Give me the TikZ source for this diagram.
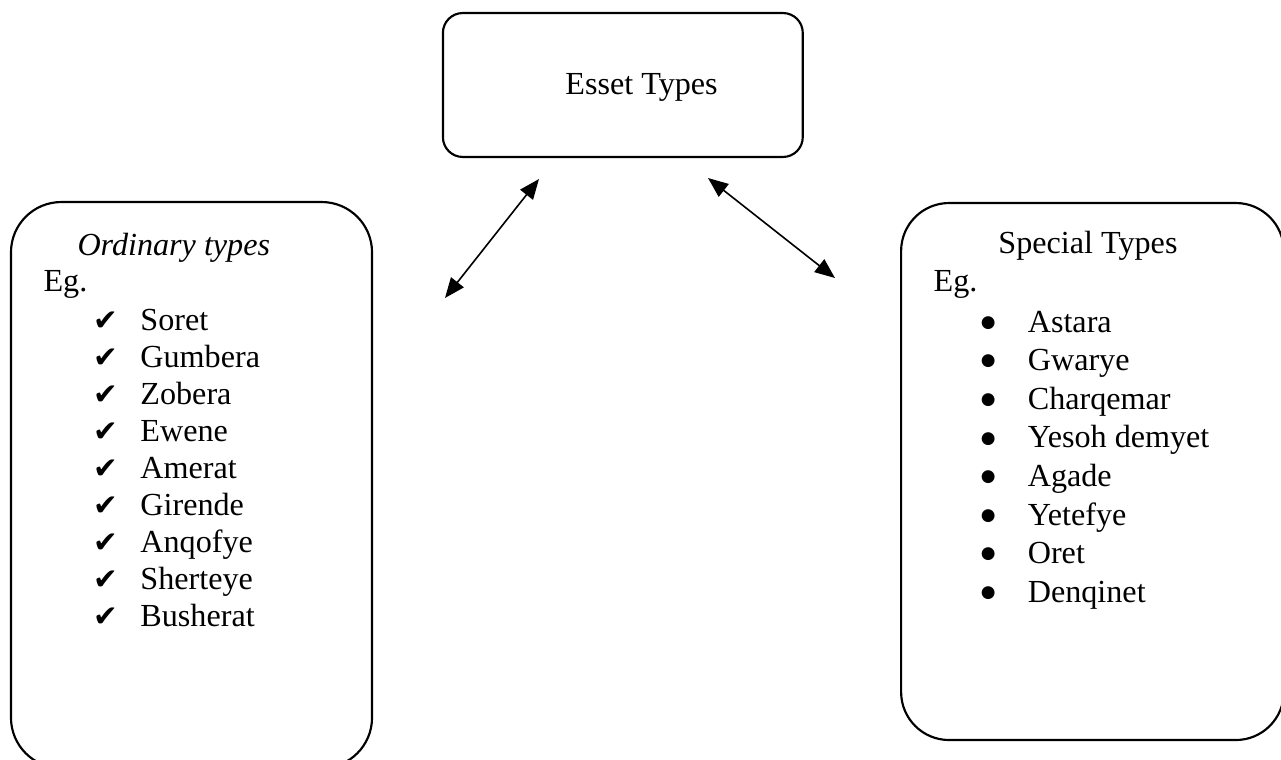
\documentclass[tikz,border=0pt]{standalone}
\usepackage{fontspec}
\setmainfont{Liberation Serif}
\newfontfamily\symfont{DejaVu Sans}
\usepackage{tikz}
\usetikzlibrary{arrows.meta, positioning}

\newcommand{\chk}{\makebox[17.5pt][l]{\symfont\fontsize{11pt}{12pt}\selectfont ✔}}
\newcommand{\blt}{\makebox[17.5pt][l]{\raisebox{1.8pt}{\symfont\fontsize{6.3pt}{7pt}\selectfont ●}}}

\tikzset{
  typebox/.style={draw, line width=0.8pt, inner sep=0pt},
  label/.style={anchor=base west, inner sep=0pt, font=\fontsize{12pt}{13.8pt}\selectfont},
  link/.style={{Triangle[length=7.5pt, width=6pt]}-{Triangle[length=7.5pt, width=6pt]}, line width=0.6pt}
}

\begin{document}
\begin{tikzpicture}
\useasboundingbox (0,0) rectangle (16.803,9.956);

% top box
\node[typebox, rounded corners=0.26cm, minimum width=4.72cm, minimum height=1.888cm] (esset) at (8.17,8.841) {};
\node[label] (essettxt) at (7.41,8.71) {Esset Types};

% ordinary types
\node[typebox, rounded corners=0.66cm, minimum width=4.736cm, minimum height=7.424cm] (ord) at (2.512,3.594) {};
\node[label] (ordtitle) at (1.01,6.611) {\itshape Ordinary types};
\node[label] (ordeg) at (0.564,6.13) {Eg.};
\node[label] (o1) at (1.22,5.62) {\chk Soret};
\node[label, below=13.8pt of o1.base west, anchor=base west] (o2) {\chk Gumbera};
\node[label, below=13.8pt of o2.base west, anchor=base west] (o3) {\chk Zobera};
\node[label, below=13.8pt of o3.base west, anchor=base west] (o4) {\chk Ewene};
\node[label, below=13.8pt of o4.base west, anchor=base west] (o5) {\chk Amerat};
\node[label, below=13.8pt of o5.base west, anchor=base west] (o6) {\chk Girende};
\node[label, below=13.8pt of o6.base west, anchor=base west] (o7) {\chk Anqofye};
\node[label, below=13.8pt of o7.base west, anchor=base west] (o8) {\chk Sherteye};
\node[label, below=13.8pt of o8.base west, anchor=base west] (o9) {\chk Busherat};

% special types
\node[typebox, rounded corners=0.63cm, minimum width=5.02cm, minimum height=7.044cm] (spec) at (14.33,3.771) {};
\node[label] (spectitle) at (13.09,6.637) {Special Types};
\node[label] (speceg) at (12.24,6.13) {Eg.};
\node[label] (s1) at (12.86,5.60) {\blt Astara};
\node[label, below=14.4pt of s1.base west, anchor=base west] (s2) {\blt Gwarye};
\node[label, below=14.4pt of s2.base west, anchor=base west] (s3) {\blt Charqemar};
\node[label, below=14.4pt of s3.base west, anchor=base west] (s4) {\blt Yesoh demyet};
\node[label, below=14.4pt of s4.base west, anchor=base west] (s5) {\blt Agade};
\node[label, below=14.4pt of s5.base west, anchor=base west] (s6) {\blt Yetefye};
\node[label, below=14.4pt of s6.base west, anchor=base west] (s7) {\blt Oret};
\node[label, below=14.4pt of s7.base west, anchor=base west] (s8) {\blt Denqinet};

% arrows
\coordinate (la) at (5.837,6.047);
\coordinate (lb) at (7.07,7.608);
\coordinate (ra) at (9.287,7.621);
\coordinate (rb) at (10.953,6.309);
\draw[link] (la) -- (lb);
\draw[link] (ra) -- (rb);
\end{tikzpicture}
\end{document}
